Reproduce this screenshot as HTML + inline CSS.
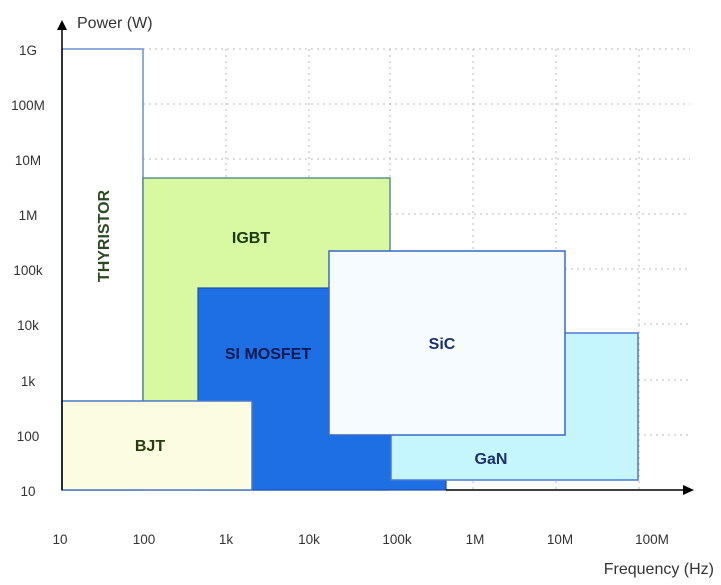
<!DOCTYPE html>
<html><head><meta charset="utf-8"><style>
body{margin:0;background:#fff;}
svg{display:block;font-family:"Liberation Sans",sans-serif;}
</style></head><body>
<svg width="721" height="585" viewBox="0 0 721 585">
<g stroke="#bbb" stroke-width="1" stroke-dasharray="2,4">
<line x1="143" y1="49" x2="690" y2="49"/><line x1="143" y1="104" x2="690" y2="104"/><line x1="143" y1="159" x2="690" y2="159"/><line x1="390" y1="214" x2="690" y2="214"/><line x1="565" y1="269" x2="690" y2="269"/><line x1="638" y1="324" x2="690" y2="324"/><line x1="638" y1="380" x2="690" y2="380"/><line x1="638" y1="435" x2="690" y2="435"/>
<line x1="226" y1="49" x2="226" y2="490"/><line x1="309" y1="49" x2="309" y2="490"/><line x1="390" y1="49" x2="390" y2="490"/><line x1="473" y1="49" x2="473" y2="490"/><line x1="556" y1="49" x2="556" y2="490"/><line x1="639" y1="49" x2="639" y2="490"/>
</g>
<rect x="62" y="49" width="81" height="441" fill="#fff" stroke="#6a8fd0" stroke-width="1.5"/>
<rect x="143" y="178" width="247" height="312" fill="#d8f8a2" stroke="#3a7a7a" stroke-width="1.2"/>
<rect x="198" y="288" width="248" height="202" fill="#1f6fe4" stroke="#1a50b0" stroke-width="1.2"/>
<rect x="62" y="401" width="190" height="89" fill="#fbfce2" stroke="#4a78c8" stroke-width="1.5"/>
<rect x="391" y="333" width="247" height="147" fill="#c6f6fd" stroke="#4a78d8" stroke-width="1.5"/>
<rect x="329" y="251" width="236" height="184" fill="#f6fbff" stroke="#3a68c8" stroke-width="1.5"/>
<line x1="62" y1="490" x2="62" y2="28" stroke="#000" stroke-width="1.5"/>
<polygon points="57,30 67,30 62,20" fill="#000"/>
<line x1="446" y1="490" x2="685" y2="490" stroke="#000" stroke-width="1.5"/>
<polygon points="683,485 683,495 694,490" fill="#000"/>
<text x="77" y="28" font-size="16" fill="#333">Power (W)</text>
<g font-size="13.5" fill="#333" text-anchor="middle">
<text x="28" y="55">1G</text><text x="28" y="110">100M</text><text x="28" y="165">10M</text><text x="28" y="220">1M</text><text x="28" y="275">100k</text><text x="28" y="330">10k</text><text x="28" y="386">1k</text><text x="28" y="441">100</text><text x="28" y="496">10</text>
<text x="60" y="544">10</text><text x="144" y="544">100</text><text x="226" y="544">1k</text><text x="309" y="544">10k</text><text x="397" y="544">100k</text><text x="475" y="544">1M</text><text x="560" y="544">10M</text><text x="652" y="544">100M</text>
</g>
<text x="714" y="574" font-size="16" fill="#333" text-anchor="end">Frequency (Hz)</text>
<g font-size="16" font-weight="bold" text-anchor="middle">
<text transform="translate(109,236) rotate(-90)" fill="#2a4a20">THYRISTOR</text>
<text x="251" y="243" fill="#1a3a10">IGBT</text>
<text x="268" y="359" fill="#0a1a50">SI MOSFET</text>
<text x="442" y="349" fill="#1a3070">SiC</text>
<text x="491" y="464" fill="#1a3070">GaN</text>
<text x="150" y="451" fill="#2a3a10">BJT</text>
</g>
</svg>
</body></html>
